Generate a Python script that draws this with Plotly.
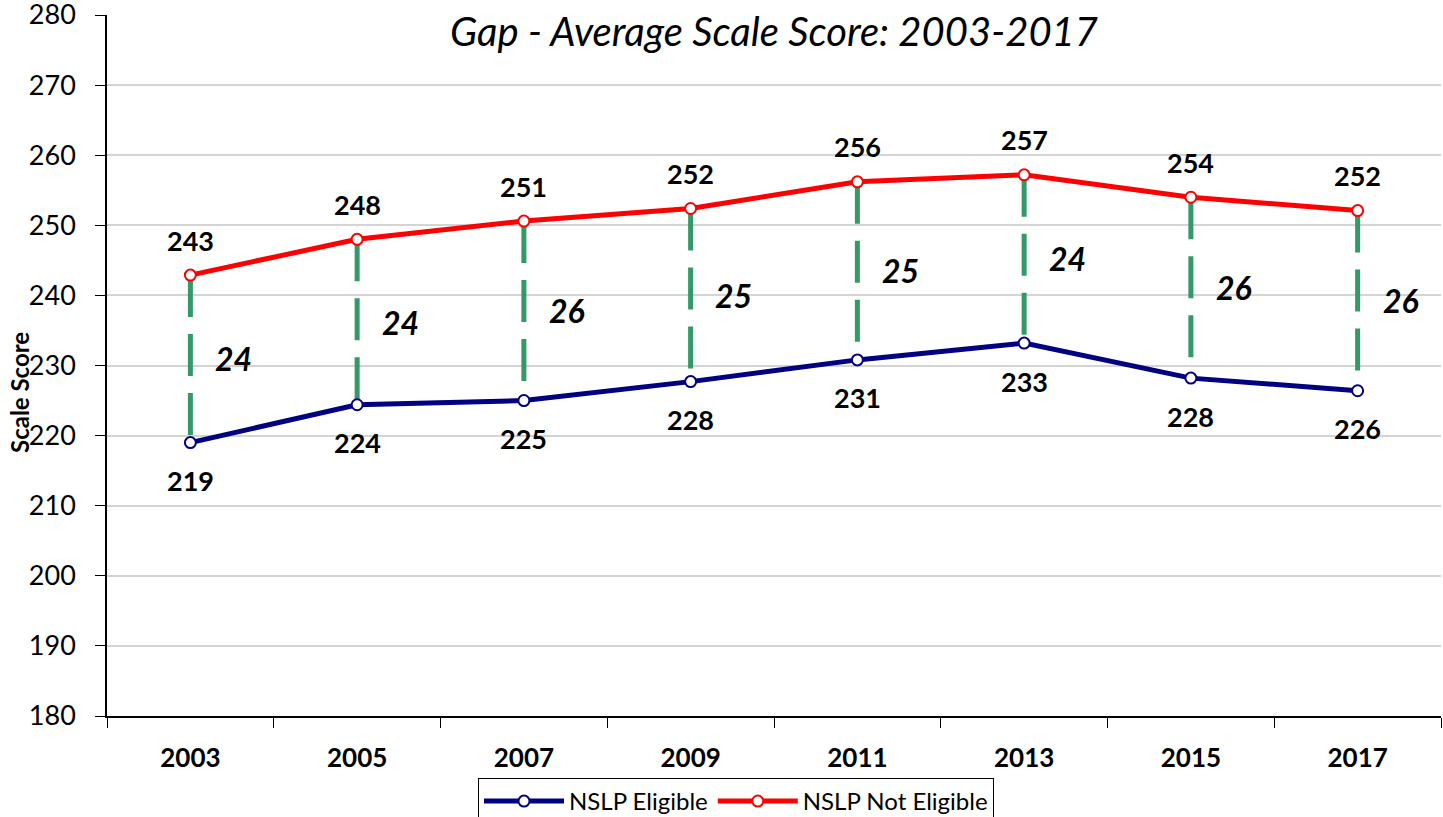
import plotly.graph_objects as go

years = ["2003", "2005", "2007", "2009", "2011", "2013", "2015", "2017"]
eligible = [219.0, 224.4, 225.0, 227.7, 230.8, 233.2, 228.2, 226.4]
not_eligible = [242.9, 248.0, 250.6, 252.4, 256.2, 257.2, 254.0, 252.1]

FONT = "Lato"
GREEN = "#339966"
NAVY = "#000080"
RED = "#ff0000"

# plot area in pixels: x 107..1441, y 15..716
L, R, T, B = 107, 2, 15, 101
PW, PH = 1443 - L - R, 817 - T - B


def px_x(px):
    return (px - L) / PW


def px_y(py):
    return (817 - B - py) / PH


fig = go.Figure()

# green dashed gap lines, red point down to blue point
for yr, hi, lo in zip(years, not_eligible, eligible):
    fig.add_trace(go.Scatter(
        x=[yr, yr], y=[hi, lo], mode="lines", showlegend=False,
        line=dict(color=GREEN, width=5, dash="42px,17px"),
        hoverinfo="skip",
    ))

fig.add_trace(go.Scatter(
    x=years, y=eligible, mode="lines+markers", name="NSLP Eligible",
    line=dict(color=NAVY, width=5),
    marker=dict(symbol="circle", size=11, color="white",
                line=dict(color=NAVY, width=2)),
))
fig.add_trace(go.Scatter(
    x=years, y=not_eligible, mode="lines+markers", name="NSLP Not Eligible",
    line=dict(color=RED, width=5),
    marker=dict(symbol="circle", size=11, color="white",
                line=dict(color=RED, width=2)),
))

# category axis: annotations use the category index
lab_font = dict(family=FONT, size=27, color="black")
for i, (hi, lo) in enumerate(zip(not_eligible, eligible)):
    fig.add_annotation(x=i, y=hi, xref="x", yref="y", text=f"<b>{hi:.0f}</b>",
                       showarrow=False, yshift=35, font=lab_font)
    fig.add_annotation(x=i, y=lo, xref="x", yref="y", text=f"<b>{lo:.0f}</b>",
                       showarrow=False, yshift=-38, font=lab_font)
    fig.add_annotation(
        x=i, y=(hi + lo) / 2, xref="x", yref="y",
        text=f"<b><i>{round(hi - lo)}</i></b>",
        showarrow=False, xshift=43,
        font=dict(family=FONT, size=32, color="black"),
    )

fig.add_annotation(
    x=0.5, y=px_y(31), xref="paper", yref="paper", yanchor="middle",
    text="<i>Gap - Average Scale Score: 2003-2017</i>", showarrow=False,
    font=dict(family=FONT, size=40, color="black"),
)
fig.add_annotation(
    x=px_x(20), y=px_y(393), xref="paper", yref="paper", showarrow=False,
    xanchor="center", yanchor="middle",
    text="<b>Scale Score</b>", textangle=-90,
    font=dict(family=FONT, size=24, color="black"),
)

fig.update_layout(
    width=1443, height=817,
    margin=dict(l=L, r=R, t=T, b=B, autoexpand=False),
    plot_bgcolor="white", paper_bgcolor="white",
    font=dict(family=FONT, color="black"),
    showlegend=True,
    legend=dict(
        orientation="h", x=px_x(736), xanchor="center", y=px_y(778), yanchor="top",
        bordercolor="black", borderwidth=1,
        font=dict(family=FONT, size=24, color="black"),
        itemwidth=80, traceorder="normal",
    ),
    xaxis=dict(
        type="category", tickson="boundaries", ticks="outside", ticklen=10,
        tickcolor="black", showline=True, linecolor="black", linewidth=1.5,
        showgrid=False, automargin=False, ticklabelstandoff=18,
        tickfont=dict(family=FONT, size=26, color="black", weight="bold"),
        range=[-0.5, 7.5],
    ),
    yaxis=dict(
        range=[180, 280], dtick=10, ticks="outside", ticklen=10,
        tickcolor="black", showline=True, linecolor="black", linewidth=1.5,
        showgrid=True, gridcolor="#d4d4d4", gridwidth=1.5, automargin=False,
        ticklabelstandoff=14, ticklabeloverflow="allow",
        tickfont=dict(family=FONT, size=27, color="black"),
        zeroline=False,
    ),
)

fig.write_html("out.html", config={"displayModeBar": False},
               post_script="document.body.style.margin='0';")
